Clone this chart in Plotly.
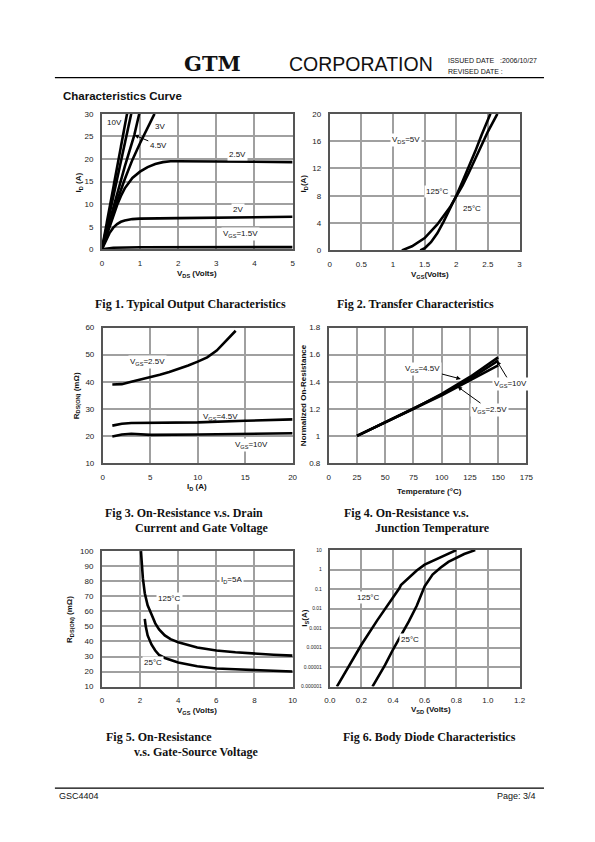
import plotly.graph_objects as go

W, H = 595, 842

# ---------------- data ----------------
# Fig 1 : Typical output characteristics (VDS in V, ID in A)
f1_10v_x = [0, 0.66]
f1_10v_y = [0, 30]
f1_6v_x = [0, 0.77]
f1_6v_y = [0, 30]
f1_45v_x = [0, 0.3, 0.6, 0.85, 0.98]
f1_45v_y = [0, 9.3, 18.3, 25.3, 30]
f1_3v_x = [0, 0.2, 0.4, 0.6, 0.8, 1.0, 1.2, 1.38]
f1_3v_y = [0, 5.5, 10.8, 15.5, 19.8, 23.5, 27.0, 30]
f1_25v_x = [0, 0.1, 0.2, 0.3, 0.4, 0.5, 0.6, 0.8, 1.0, 1.2, 1.4, 1.6, 1.8, 2.0, 3, 4, 5]
f1_25v_y = [0, 2.5, 5, 7.5, 9.8, 11.8, 13.5, 15.8, 17.2, 18.2, 18.9, 19.3, 19.5, 19.5, 19.5, 19.4, 19.3]
f1_2v_x = [0, 0.1, 0.2, 0.3, 0.4, 0.5, 0.6, 0.8, 1.0, 2, 3, 4, 5]
f1_2v_y = [0, 2.0, 3.6, 4.8, 5.6, 6.1, 6.4, 6.7, 6.8, 6.9, 7.0, 7.1, 7.2]
f1_15v_x = [0, 0.3, 1, 5]
f1_15v_y = [0, 0.35, 0.45, 0.5]

# Fig 2 : Transfer characteristics (VGS in V, ID in A)
f2_125_x = [1.14, 1.3, 1.5, 1.7, 1.9, 2.0, 2.1, 2.2, 2.3, 2.4, 2.5, 2.6, 2.65]
f2_125_y = [0, 0.6, 1.8, 3.8, 6.3, 7.8, 9.5, 11.4, 13.3, 15.4, 17.4, 19.3, 20]
f2_25_x = [1.43, 1.5, 1.6, 1.7, 1.8, 1.9, 2.0, 2.1, 2.2, 2.3, 2.4, 2.5, 2.54]
f2_25_y = [0, 0.3, 1.2, 2.5, 4.2, 6.0, 8.0, 10.1, 12.2, 14.5, 16.9, 19.2, 20]

# Fig 3 : RDS(ON) vs ID (A, mOhm)
f3_25v_x = [1, 2, 3, 4, 5, 6, 7, 8, 9, 10, 11, 12, 13, 14]
f3_25v_y = [39, 39.1, 40, 40.8, 41.6, 42.6, 43.6, 44.7, 46, 47.4, 49, 51.5, 55, 58.8]
f3_45v_x = [1, 2, 3, 5, 10, 15, 20]
f3_45v_y = [23.8, 24.5, 24.8, 24.8, 25, 25.6, 26.1]
f3_10v_x = [1, 2, 3, 4, 5, 10, 15, 20]
f3_10v_y = [19.8, 20.5, 20.8, 20.5, 20.4, 20.5, 20.8, 21]

# Fig 4 : normalized RDS(ON) vs temperature
f4_temp = [25, 50, 75, 100, 125, 150]
f4_45v = [1, 1.1, 1.2, 1.31, 1.435, 1.58]
f4_10v = [1, 1.1, 1.2, 1.305, 1.42, 1.555]
f4_25v = [1, 1.1, 1.2, 1.3, 1.41, 1.52]

# Fig 5 : RDS(ON) vs VGS
f5_125_x = [2.05, 2.1, 2.15, 2.25, 2.4, 2.6, 2.8, 3.0, 3.3, 3.6, 4, 5, 6, 7, 8, 9, 10]
f5_125_y = [100, 90, 82, 72, 64, 58, 52, 48, 44, 41.5, 39.5, 36, 34, 32.8, 31.8, 31.2, 30.6]
f5_25_x = [2.25, 2.3, 2.4, 2.6, 2.8, 3.0, 3.3, 3.6, 4, 5, 6, 7, 8, 9, 10]
f5_25_y = [55, 50, 44, 38, 34, 31, 29, 27.5, 26, 23.5, 22, 21.5, 21, 20.5, 20]

# Fig 6 : body diode (VSD in V, IS in A)
f6_125_x = [0.045, 0.1, 0.2, 0.3, 0.4, 0.44, 0.45, 0.5, 0.55, 0.6, 0.65, 0.7, 0.75, 0.8]
f6_125_y = [1e-6, 6e-6, 1.4e-4, 2.5e-3, 3.5e-2, 0.11, 0.16, 0.4, 0.9, 1.8, 2.8, 4.5, 7, 10]
f6_25_x = [0.27, 0.3, 0.35, 0.4, 0.45, 0.5, 0.55, 0.58, 0.6, 0.65, 0.7, 0.75, 0.8, 0.85, 0.92]
f6_25_y = [1e-6, 2.5e-6, 1.3e-5, 8e-5, 4e-4, 2.2e-3, 1.4e-2, 6.3e-2, 0.14, 0.56, 1.26, 2.5, 4, 6.3, 10]
f6_ytick_vals = [1e-6, 1e-5, 1e-4, 1e-3, 1e-2, 1e-1, 1, 10]
f6_ytick_text = ["0.000001", "0.00001", "0.0001", "0.001", "0.01", "0.1", "1", "10"]

# ---------------- helpers ----------------
def px(x):
    return x / W

def py(y):
    return 1 - y / H

SANS = "Liberation Sans"
SERIF = "Liberation Serif"
LINE = dict(color="black", width=2.6)

fig = go.Figure()

def add(x, y, n):
    ax = "" if n == 1 else str(n)
    fig.add_trace(go.Scatter(x=x, y=y, mode="lines", line=LINE,
                             xaxis="x" + ax, yaxis="y" + ax,
                             showlegend=False, hoverinfo="skip"))

for xs, ys in [(f1_10v_x, f1_10v_y), (f1_6v_x, f1_6v_y), (f1_45v_x, f1_45v_y),
               (f1_3v_x, f1_3v_y), (f1_25v_x, f1_25v_y), (f1_2v_x, f1_2v_y),
               (f1_15v_x, f1_15v_y)]:
    add(xs, ys, 1)
add(f2_125_x, f2_125_y, 2)
add(f2_25_x, f2_25_y, 2)
add(f3_25v_x, f3_25v_y, 3)
add(f3_45v_x, f3_45v_y, 3)
add(f3_10v_x, f3_10v_y, 3)
add(f4_temp, f4_45v, 4)
add(f4_temp, f4_10v, 4)
add(f4_temp, f4_25v, 4)
add(f5_125_x, f5_125_y, 5)
add(f5_25_x, f5_25_y, 5)
add(f6_125_x, f6_125_y, 6)
add(f6_25_x, f6_25_y, 6)

# plot boxes in page pixels: (left, right, top, bottom)
boxes = {
    1: (98, 293, 111, 248),
    2: (331, 525, 111, 249),
    3: (99, 293, 327, 464),
    4: (330, 532, 327, 464),
    5: (98, 293, 553, 690),
    6: (331, 525, 552, 690),
}

def axis_common():
    return dict(showgrid=True, gridcolor="#a0a0a0", gridwidth=1.8,
                showline=True, linecolor="#555555", linewidth=1.8, mirror=True,
                zeroline=False, ticks="", ticklabelstandoff=5,
                tickfont=dict(family=SANS, size=8, color="#222222"),
                fixedrange=True)

xspec = {
    1: dict(range=[0, 5], dtick=1, tick0=0),
    2: dict(range=[0, 3], dtick=0.5, tick0=0),
    3: dict(range=[0, 20], dtick=5, tick0=0),
    4: dict(range=[0, 175], dtick=25, tick0=0),
    5: dict(range=[0, 10], dtick=2, tick0=0),
    6: dict(range=[0, 1.2], dtick=0.2, tick0=0, tickformat=".1f"),
}
yspec = {
    1: dict(range=[0, 30], dtick=5, tick0=0),
    2: dict(range=[0, 20], dtick=4, tick0=0),
    3: dict(range=[10, 60], dtick=10, tick0=0),
    4: dict(range=[0.8, 1.8], dtick=0.2, tick0=0.8),
    5: dict(range=[10, 100], dtick=10, tick0=0),
    6: dict(type="log", range=[-6, 1], tickvals=f6_ytick_vals, ticktext=f6_ytick_text,
            tickfont=dict(family=SANS, size=5, color="#222222")),
}

layout = dict(width=W, height=H, autosize=False,
              margin=dict(l=0, r=0, t=0, b=0, pad=0),
              paper_bgcolor="white", plot_bgcolor="white",
              showlegend=False)
for n, (l, r, t, b) in boxes.items():
    sfx = "" if n == 1 else str(n)
    xa = axis_common()
    xa.update(xspec[n])
    xa.update(domain=[px(l), px(r)], anchor="y" + sfx)
    ya = axis_common()
    ya.update(yspec[n])
    ya.update(domain=[py(b), py(t)], anchor="x" + sfx)
    layout["xaxis" + sfx] = xa
    layout["yaxis" + sfx] = ya
fig.update_layout(**layout)

ann = []

def T(text, x, y, size=8, bold=False, family=SANS, xanchor="center", yanchor="middle",
      angle=0, color="#111111"):
    ann.append(dict(text=("<b>%s</b>" % text) if bold else text, x=px(x), y=py(y),
                    xref="paper", yref="paper", showarrow=False, xanchor=xanchor,
                    yanchor=yanchor, textangle=angle, borderpad=0,
                    font=dict(family=family, size=size, color=color)))

def L(text, x, y, n, bg=True, size=8):
    sfx = "" if n == 1 else str(n)
    ann.append(dict(text=text, x=x, y=y, xref="x" + sfx, yref="y" + sfx, showarrow=False,
                    bgcolor="white" if bg else None, borderpad=1,
                    font=dict(family=SANS, size=size, color="#111111")))

def A(text, x, y, n, ax, ay, size=8):
    sfx = "" if n == 1 else str(n)
    ann.append(dict(text=text, x=x, y=y, xref="x" + sfx, yref="y" + sfx, showarrow=True,
                    ax=ax, ay=ay, arrowhead=2, arrowsize=0.9, arrowwidth=1,
                    arrowcolor="black", bgcolor="white", borderpad=1,
                    font=dict(family=SANS, size=size, color="#111111")))

# header
T("GTM", 211, 60, size=21, bold=True, family="DejaVu Serif", color="#111111")
T("CORPORATION", 363, 61, size=19.5, family=SANS, color="#111111")
T("ISSUED DATE   :2006/10/27", 451, 57, size=7, xanchor="left")
T("REVISED DATE :", 451, 68, size=7, xanchor="left")
T("Characteristics Curve", 57, 93, size=11.5, bold=True, xanchor="left")
T("GSC4404", 53, 801, size=9, xanchor="left")
T("Page: 3/4", 543, 801, size=9, xanchor="right")

# captions
T("Fig 1. Typical Output Characteristics", 189, 303, size=12, bold=True, family=SERIF)
T("Fig 2. Transfer Characteristics", 419, 303, size=12, bold=True, family=SERIF)
T("Fig 3. On-Resistance v.s. Drain", 100, 515, size=12, bold=True, family=SERIF, xanchor="left")
T("Current and Gate Voltage", 131, 530, size=12, bold=True, family=SERIF, xanchor="left")
T("Fig 4. On-Resistance v.s.", 345, 515, size=12, bold=True, family=SERIF, xanchor="left")
T("Junction Temperature", 376, 530, size=12, bold=True, family=SERIF, xanchor="left")
T("Fig 5. On-Resistance", 101, 741, size=12, bold=True, family=SERIF, xanchor="left")
T("v.s. Gate-Source Voltage", 130, 756, size=12, bold=True, family=SERIF, xanchor="left")
T("Fig 6. Body Diode Characteristics", 344, 741, size=12, bold=True, family=SERIF, xanchor="left")

# axis titles
T("V<sub>DS</sub> (Volts)", 195, 273, size=8, bold=True)
T("I<sub>D</sub> (A)", 75, 180, size=8, bold=True, angle=-90)
T("V<sub>GS</sub>(Volts)", 433, 274, size=8, bold=True)
T("I<sub>D</sub>(A)", 305, 181, size=8, bold=True, angle=-90)
T("I<sub>D</sub> (A)", 195, 488, size=8, bold=True)
T("R<sub>DS(ON)</sub> (mΩ)", 72, 396, size=8, bold=True, angle=-90)
T("Temperature (°C)", 433, 493, size=8, bold=True)
T("Normalized On-Resistance", 304, 395, size=8, bold=True, angle=-90)
T("V<sub>GS</sub> (Volts)", 195, 715, size=8, bold=True)
T("R<sub>DS(ON)</sub> (mΩ)", 66, 622, size=8, bold=True, angle=-90)
T("V<sub>SD</sub> (Volts)", 435, 714, size=8, bold=True)
T("I<sub>S</sub>(A)", 306, 621, size=8, bold=True, angle=-90)

# in-plot labels
L("10V", 0.34, 28.1, 1, bg=False)
L("3V", 1.53, 27.1, 1, bg=False)
A("4.5V", 0.85, 25.3, 1, 24, 10)
L("2.5V", 3.56, 20.9, 1)
L("2V", 3.56, 8.9, 1)
L("V<sub>GS</sub>=1.5V", 3.64, 3.4, 1)

L("V<sub>DS</sub>=5V", 1.2, 16.2, 2)
L("125°C", 1.71, 8.6, 2)
L("25°C", 2.25, 6.2, 2)

L("V<sub>GS</sub>=2.5V", 4.7, 47.2, 3)
L("V<sub>GS</sub>=4.5V", 12.4, 27.0, 3, bg=False)
L("V<sub>GS</sub>=10V", 15.7, 16.8, 3)

A("V<sub>GS</sub>=4.5V", 117, 1.42, 4, -38, -10)
A("V<sub>GS</sub>=10V", 148.8, 1.554, 4, 14, 23)
A("V<sub>GS</sub>=2.5V", 114, 1.364, 4, 32, 23)

L("125°C", 3.54, 68.8, 5)
L("I<sub>D</sub>=5A", 6.79, 80.7, 5)
L("25°C", 2.68, 25.8, 5)

L("125°C", 0.247, -1.42, 6)
L("25°C", 0.509, -3.59, 6)

fig.update_layout(annotations=ann)

# header / footer rules
fig.update_layout(shapes=[
    dict(type="line", xref="paper", yref="paper", x0=px(50), x1=px(550), y0=py(74.5), y1=py(74.5),
         line=dict(color="black", width=1.2)),
    dict(type="line", xref="paper", yref="paper", x0=px(50), x1=px(550), y0=py(792.5), y1=py(792.5),
         line=dict(color="black", width=1.2)),
])

fig.write_html("out.html", include_plotlyjs=True, config={"displayModeBar": False},
               post_script="document.body.style.margin='0';document.body.style.padding='0';"
                           "document.body.style.overflow='hidden';")
